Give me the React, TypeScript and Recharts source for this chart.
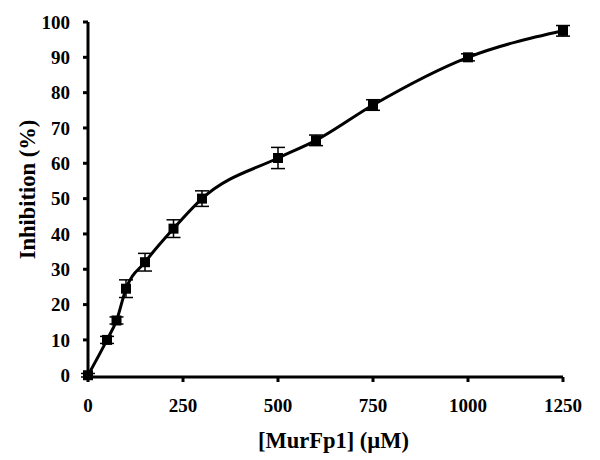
import React from "react";
import { LineChart, Line, XAxis, YAxis, ErrorBar, Label } from "recharts";

const concentrations = [0, 50, 75, 100, 150, 225, 300, 500, 600, 750, 1000, 1250];
const inhibition = [0, 10, 15.5, 24.5, 32, 41.5, 50, 61.5, 66.5, 76.5, 90, 97.5];
const errors = [0.5, 1, 1, 2.5, 2.5, 2.5, 2.2, 3, 1.5, 1.5, 1, 1.5];
const xTicks = [0, 250, 500, 750, 1000, 1250];
const yTicks = [0, 10, 20, 30, 40, 50, 60, 70, 80, 90, 100];

const data = concentrations.map((c, i) => ({ c, v: inhibition[i], err: errors[i] }));

const font = "'Liberation Serif', 'Times New Roman', serif";
const tickCss = { fontSize: 19, fontWeight: 700, fontFamily: font };
const tickStyle = { fill: "#000", fontSize: 19, fontWeight: "bold", fontFamily: font, style: tickCss };
const labelStyle = { fill: "#000", fontSize: 22.5, fontWeight: "bold", fontFamily: font };

function SquareDot(props: any) {
  const { cx, cy } = props;
  if (cx == null || cy == null) return null;
  return <rect x={cx - 5} y={cy - 5} width={10} height={10} fill="#000" />;
}

function YTitle(props: any) {
  const vb = props.viewBox || {};
  const x = 27;
  const y = vb.y + vb.height / 2 - 10;
  return (
    <text x={x} y={y} transform={`rotate(-90, ${x}, ${y})`} textAnchor="middle" dominantBaseline="central" style={labelStyle}>
      Inhibition (%)
    </text>
  );
}

function XTitle(props: any) {
  const vb = props.viewBox || {};
  const x = vb.x + vb.width / 2 + 8;
  return (
    <text x={x} y={440} textAnchor="middle" dominantBaseline="central" style={labelStyle}>
      [MurFp1] (µM)
    </text>
  );
}

export default function App() {
  return (
    <div style={{ position: "absolute", left: 0, top: 0, width: 600, height: 460, background: "#fff" }}>
      <LineChart width={600} height={460} data={data} margin={{ top: 22, right: 37, bottom: 0, left: 0 }}>
        <XAxis
          dataKey="c"
          type="number"
          domain={[0, 1250]}
          ticks={xTicks}
          height={83}
          stroke="#000"
          strokeWidth={3}
          tickSize={5}
          tickMargin={17}
          fontSize={19}
          tick={tickStyle}
        >
          <Label content={<XTitle />} />
        </XAxis>
        <YAxis
          type="number"
          domain={[0, 100]}
          ticks={yTicks}
          width={88}
          stroke="#000"
          strokeWidth={3}
          tickSize={5}
          tickMargin={13}
          fontSize={19}
          tick={tickStyle}
        >
          <Label content={<YTitle />} />
        </YAxis>
        <Line
          dataKey="v"
          type="monotone"
          stroke="#000"
          strokeWidth={3}
          dot={<SquareDot />}
          activeDot={false}
          isAnimationActive={false}
        >
          <ErrorBar dataKey="err" direction="y" width={7} stroke="#000" strokeWidth={1.5} />
        </Line>
      </LineChart>
    </div>
  );
}
